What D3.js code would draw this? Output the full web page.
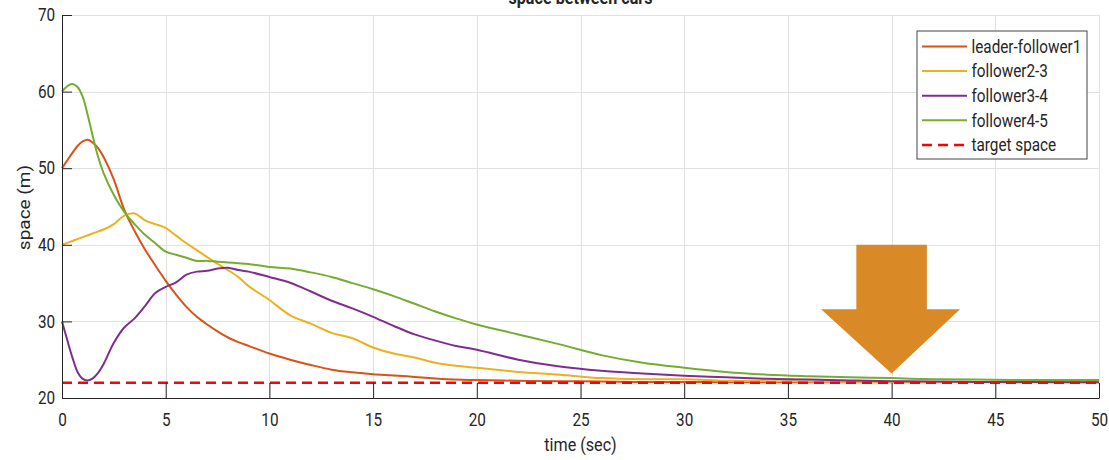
<!DOCTYPE html>
<html>
<head>
<meta charset="utf-8">
<script src="https://cdn.jsdelivr.net/npm/d3@7"></script>
<style>
  body { margin: 0; background: #fff; }
  text { font-family: Roboto, "Liberation Sans", Arial, sans-serif; fill: #262626; }
</style>
</head>
<body>
<div id="chart"></div>
<script>
// sample times (sec)
const time = [0, 0.25, 0.5, 0.75, 1, 1.25, 1.5, 1.75, 2,
  2.5, 3, 3.5, 4, 4.5, 5, 5.5, 6, 6.5, 7, 7.5, 8, 8.5, 9,
  10, 11, 12, 13, 14, 15, 16, 17, 18, 19, 20,
  22, 24, 26, 28, 30, 32, 34, 36, 38, 40, 42, 44, 46, 48, 50];

const leaderFollower1 = [50, 51.0, 52.0, 52.9, 53.5, 53.7, 53.3, 52.6, 51.5,
  48.5, 44.6, 41.8, 39.4, 37.3, 35.3, 33.5, 31.9, 30.6, 29.6, 28.7, 27.9, 27.3, 26.8,
  25.8, 25.0, 24.3, 23.7, 23.35, 23.1, 22.95, 22.75, 22.55, 22.4, 22.35,
  22.25, 22.2, 22.15, 22.1, 22.1, 22.05, 22.05, 22.05, 22.05, 22.05, 22.05, 22.1, 22.05, 22.1, 22.05];

const follower23 = [40, 40.25, 40.5, 40.75, 41.0, 41.25, 41.5, 41.75, 42.0,
  42.7, 43.8, 44.1, 43.2, 42.7, 42.2, 41.2, 40.2, 39.3, 38.4, 37.5, 36.7, 35.8, 34.6,
  32.8, 30.8, 29.7, 28.5, 27.8, 26.6, 25.8, 25.3, 24.6, 24.2, 23.95,
  23.4, 23.05, 22.6, 22.45, 22.45, 22.25, 22.2, 22.15, 22.1, 22.1, 22.1, 22.05, 22.05, 22.05, 22.05];

const follower34 = [30, 27.6, 25.3, 23.4, 22.5, 22.3, 22.6, 23.3, 24.4,
  27.2, 29.2, 30.4, 32.0, 33.7, 34.5, 35.1, 36.1, 36.5, 36.6, 36.9, 37.0, 36.7, 36.5,
  35.8, 35.05, 33.9, 32.7, 31.7, 30.6, 29.4, 28.3, 27.5, 26.8, 26.3,
  25.0, 24.1, 23.55, 23.2, 22.9, 22.7, 22.5, 22.4, 22.3, 22.2, 22.15, 22.1, 22.1, 22.05, 22.05];

const follower45 = [60, 60.7, 61.0, 60.6, 59.3, 56.8, 54.0, 51.4, 49.4,
  46.5, 44.3, 42.7, 41.3, 40.2, 39.1, 38.7, 38.3, 37.9, 37.9, 37.8, 37.7, 37.6, 37.5,
  37.1, 36.9, 36.4, 35.8, 35.0, 34.2, 33.3, 32.3, 31.3, 30.4, 29.6,
  28.3, 27.0, 25.6, 24.6, 23.95, 23.4, 23.05, 22.85, 22.7, 22.6, 22.45, 22.4, 22.35, 22.35, 22.35];

const targetSpace = 22;

const seriesNames = ['leader-follower1', 'follower2-3', 'follower3-4', 'follower4-5', 'target space'];
const seriesColors = ['#D95319', '#EDB120', '#7E2F8E', '#77AC30', '#FF0000'];

const xTicks = [0, 5, 10, 15, 20, 25, 30, 35, 40, 45, 50];
const yTicks = [20, 30, 40, 50, 60, 70];

// arrow annotation in data units: shaft x-range, shaft top, head y, head x-range, tip
const arrowShaft = [38.3, 41.7, 40];
const arrowHead = [36.6, 43.3, 31.6];
const arrowTip = [40, 23.2];

const width = 1109;
const height = 460;
const margin = { top: 15, right: 10, bottom: 62, left: 62 };
const sx = 0.85; // horizontal squeeze of the reference text

const svg = d3.select('#chart')
  .append('svg')
  .attr('width', width)
  .attr('height', height);

const x = d3.scaleLinear().domain([0, 50]).range([margin.left, width - margin.right]);
const y = d3.scaleLinear().domain([20, 70]).range([height - margin.bottom, margin.top]);

// grid
const grid = svg.append('g').attr('stroke', '#e2e2e2').attr('stroke-width', 1);
grid.selectAll('.gx').data(xTicks).enter().append('line')
  .attr('x1', d => Math.round(x(d)) + 0.5).attr('x2', d => Math.round(x(d)) + 0.5)
  .attr('y1', y(20)).attr('y2', y(70));
grid.selectAll('.gy').data(yTicks).enter().append('line')
  .attr('y1', d => Math.round(y(d)) + 0.5).attr('y2', d => Math.round(y(d)) + 0.5)
  .attr('x1', x(0)).attr('x2', x(50));

// title (cut off at the top like the original)
svg.append('text')
  .attr('transform', `translate(${x(25)},4) scale(${sx},1)`)
  .attr('text-anchor', 'middle')
  .style('font-size', '19px')
  .style('font-weight', 'bold')
  .text('space between cars');

// series lines
const line = d3.line()
  .x((d, i) => x(time[i]))
  .y(d => y(d))
  .curve(d3.curveCatmullRom.alpha(0.5));

const series = [leaderFollower1, follower23, follower34, follower45];
series.forEach((s, i) => {
  svg.append('path')
    .datum(s)
    .attr('fill', 'none')
    .attr('stroke', seriesColors[i])
    .attr('stroke-width', 2)
    .attr('d', line);
});

// target space
svg.append('line')
  .attr('x1', x(0)).attr('x2', x(50))
  .attr('y1', y(targetSpace)).attr('y2', y(targetSpace))
  .attr('stroke', seriesColors[4])
  .attr('stroke-width', 2.5)
  .attr('stroke-dasharray', '10,6');

// axes
const xAxis = svg.append('g')
  .attr('transform', `translate(0,${y(20)})`)
  .call(d3.axisBottom(x).tickValues(xTicks).tickSizeInner(-15).tickSizeOuter(0).tickPadding(15));
const yAxis = svg.append('g')
  .attr('transform', `translate(${x(0)},0)`)
  .call(d3.axisLeft(y).tickValues(yTicks).tickSizeInner(-10).tickSizeOuter(0).tickPadding(8));

[xAxis, yAxis].forEach(a => {
  a.select('.domain').attr('stroke', '#262626');
  a.selectAll('.tick line').attr('stroke', '#262626');
  a.selectAll('.tick text')
    .attr('fill', '#262626')
    .style('font-size', '18px')
    .style('font-family', 'Roboto, sans-serif')
    .attr('transform', `scale(${sx},1)`);
});

// axis labels
svg.append('text')
  .attr('transform', `translate(${x(25)},451) scale(${sx},1)`)
  .attr('text-anchor', 'middle')
  .style('font-size', '19px')
  .text('time (sec)');

svg.append('text')
  .attr('transform', `translate(30,${y(45) + 1}) rotate(-90) scale(1,${sx})`)
  .attr('text-anchor', 'middle')
  .style('font-size', '19px')
  .text('space (m)');

// arrow annotation
const arrowPts = [
  [arrowShaft[0], arrowShaft[2]], [arrowShaft[1], arrowShaft[2]],
  [arrowShaft[1], arrowHead[2]], [arrowHead[1], arrowHead[2]],
  arrowTip,
  [arrowHead[0], arrowHead[2]], [arrowShaft[0], arrowHead[2]]
];
svg.append('polygon')
  .attr('points', arrowPts.map(p => `${x(p[0])},${y(p[1])}`).join(' '))
  .attr('fill', '#D98A27');

// legend
const legend = svg.append('g').attr('transform', 'translate(917,31)');
legend.append('rect')
  .attr('width', 170).attr('height', 128)
  .attr('fill', '#fff')
  .attr('stroke', '#444')
  .attr('stroke-width', 1);
const rows = legend.selectAll('.row').data(seriesNames).enter().append('g')
  .attr('transform', (d, i) => `translate(0,${15.5 + i * 24.6})`);
rows.append('line')
  .attr('x1', 5).attr('x2', 50)
  .attr('stroke', (d, i) => seriesColors[i])
  .attr('stroke-width', (d, i) => i === 4 ? 2.5 : 2)
  .attr('stroke-dasharray', (d, i) => i === 4 ? '10,6' : null);
rows.append('text')
  .attr('transform', `translate(54.5,0) scale(${sx},1)`)
  .attr('dy', '0.35em')
  .style('font-size', '18px')
  .text(d => d);
</script>
</body>
</html>
